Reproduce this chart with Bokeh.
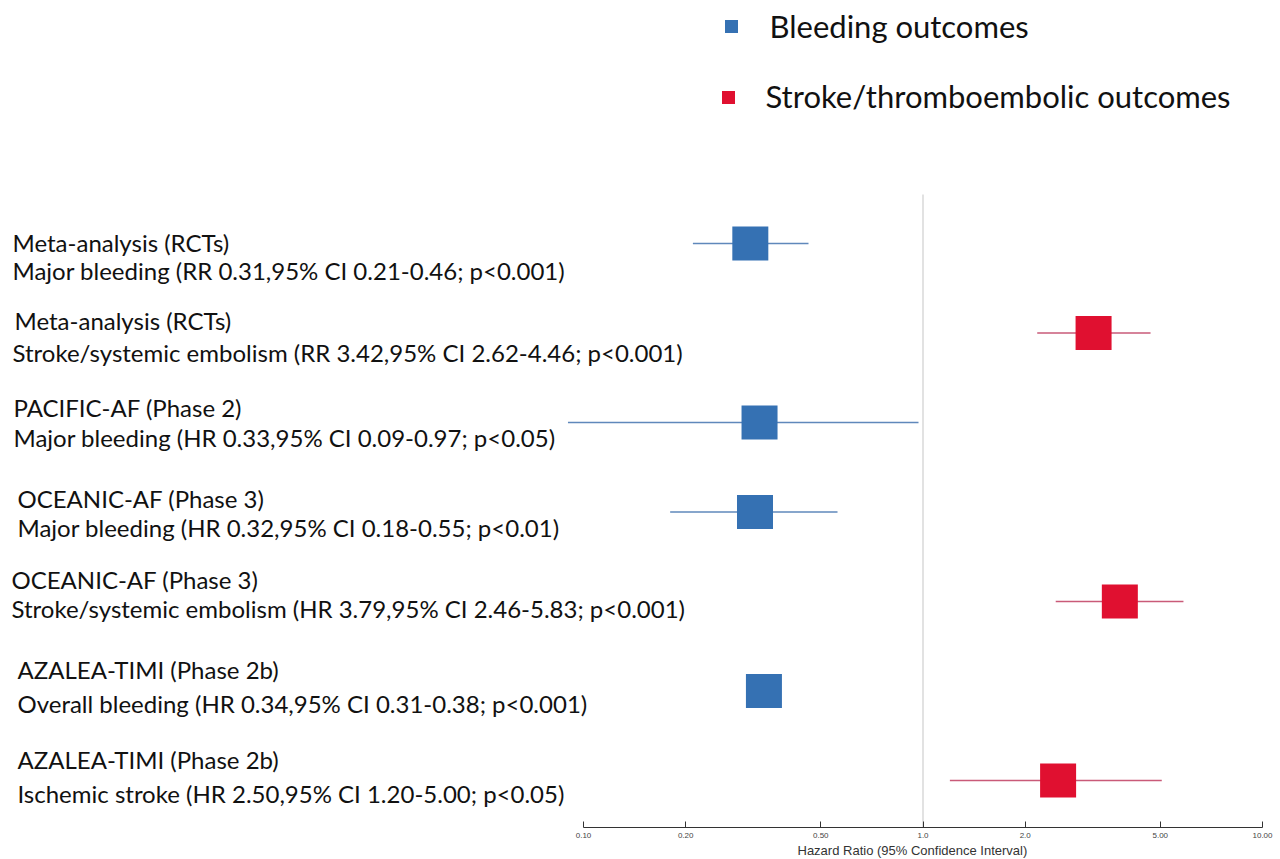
import numpy as np
from bokeh.plotting import figure
from bokeh.models import Range1d, FixedTicker, ColumnDataSource, Title
from bokeh.embed import file_html
from bokeh.resources import INLINE
from bokeh.core.properties import value

# ---------------- data ----------------
studies = [
    "Meta-analysis (RCTs)",
    "Meta-analysis (RCTs)",
    "PACIFIC-AF (Phase 2)",
    "OCEANIC-AF (Phase 3)",
    "OCEANIC-AF (Phase 3)",
    "AZALEA-TIMI (Phase 2b)",
    "AZALEA-TIMI (Phase 2b)",
]
outcomes = [
    "Major bleeding (RR 0.31,95% CI 0.21-0.46; p<0.001)",
    "Stroke/systemic embolism (RR 3.42,95% CI 2.62-4.46; p<0.001)",
    "Major bleeding (HR 0.33,95% CI 0.09-0.97; p<0.05)",
    "Major bleeding (HR 0.32,95% CI 0.18-0.55; p<0.01)",
    "Stroke/systemic embolism (HR 3.79,95% CI 2.46-5.83; p<0.001)",
    "Overall bleeding (HR 0.34,95% CI 0.31-0.38; p<0.001)",
    "Ischemic stroke (HR 2.50,95% CI 1.20-5.00; p<0.05)",
]
# values as drawn in the picture
hr = [0.31, 3.18, 0.33, 0.32, 3.80, 0.34, 2.50]
ci_low = [0.21, 2.17, 0.09, 0.18, 2.46, 0.31, 1.20]
ci_high = [0.46, 4.68, 0.97, 0.56, 5.85, 0.38, 5.05]
kind = ["bleed", "stroke", "bleed", "bleed", "stroke", "bleed", "stroke"]

tick_values = [0.1, 0.2, 0.5, 1.0, 2.0, 5.0, 10.0]
tick_labels = ["0.10", "0.20", "0.50", "1.0", "2.0", "5.00", "10.00"]
legend_labels = ["Bleeding outcomes", "Stroke/thromboembolic outcomes"]
legend_kinds = ["bleed", "stroke"]

# ---------------- styles / layout ----------------
BOX = {"bleed": "#3571b3", "stroke": "#e01030"}
LINE = {"bleed": "#5f88bb", "stroke": "#c95a78"}

W, H = 1280, 859
BOTTOM = 32
FRAME_H = H - BOTTOM
PX_DEC = 339.5            # pixels per decade
X01 = 583                 # px of x=0.1
ROW0 = 243                # px of first row centre
ROW_STEP = 89.5

lx0 = -1 - X01 / PX_DEC
lx1 = lx0 + W / PX_DEC
y_top = (0 - ROW0) / ROW_STEP
y_bot = (FRAME_H - ROW0) / ROW_STEP


def px_to_x(px):
    return 10 ** (lx0 + px / PX_DEC)


def px_to_y(py):
    return (py - ROW0) / ROW_STEP


p = figure(width=W, height=H, x_axis_type="log",
           x_range=Range1d(10 ** lx0, 10 ** lx1),
           y_range=Range1d(y_bot, y_top),
           output_backend="svg", toolbar_location=None,
           min_border_left=0, min_border_right=0, min_border_top=0,
           min_border_bottom=BOTTOM, y_axis_location=None)
p.outline_line_color = None
p.xgrid.visible = False
p.ygrid.visible = False
p.background_fill_color = "white"
p.border_fill_color = "white"

rows = list(range(len(hr)))
src = ColumnDataSource(dict(
    y=rows, hr=hr, lo=ci_low, hi=ci_high,
    box=[BOX[k] for k in kind], line=[LINE[k] for k in kind],
    study=studies, outcome=outcomes,
    x0=[10 ** lx0] * len(hr),
    xo1=[12, 14, 13, 17, 11, 17, 17],
    xo2=[12, 12, 13, 17, 11, 17, 17],
    yo1=[-1, -13, -15, -14, -22, -22, -21],
    yo2=[27, 19, 15, 15, 7, 12, 13],
))

# reference line at HR = 1
p.segment(x0=[1.0], y0=[px_to_y(194)], x1=[1.0], y1=[y_bot],
          line_color="#cfcfcf", line_width=1.2)

# CI lines and boxes
p.segment(x0="lo", y0="y", x1="hi", y1="y", source=src,
          line_color="line", line_width=1.4)
p.rect(x="hr", y="y", width=36, height=34, width_units="screen",
       height_units="screen", source=src, fill_color="box", line_color=None)

# left labels
for col, xo, yo in (("study", "xo1", "yo1"), ("outcome", "xo2", "yo2")):
    p.text(x="x0", y="y", text=col, x_offset=xo, y_offset=yo, source=src,
           text_font=value("Lato"), text_font_size="24px",
           text_color="#111111", text_baseline="middle", text_align="left")

# legend (top)
leg = ColumnDataSource(dict(
    gx=[px_to_x(731), px_to_x(728)], gy=[px_to_y(26), px_to_y(97)],
    tx=[px_to_x(769), px_to_x(765)], ty=[px_to_y(25), px_to_y(95)],
    color=[BOX[k] for k in legend_kinds], label=legend_labels,
))
p.scatter(x="gx", y="gy", source=leg, marker="square", size=13,
          fill_color="color", line_color=None)
p.text(x="tx", y="ty", text="label", source=leg, text_font=value("Lato"),
       text_font_size="31px", text_color="#111111",
       text_baseline="middle", text_align="left")

# axis
ax = p.xaxis[0]
ax.ticker = FixedTicker(ticks=tick_values)
ax.major_label_overrides = {v: l for v, l in zip(tick_values, tick_labels)}
ax.bounds = (tick_values[0], tick_values[-1])
ax.minor_tick_line_color = None
ax.major_tick_in = 6
ax.major_tick_out = 0
ax.axis_line_color = "#333333"
ax.major_tick_line_color = "#333333"
ax.major_label_text_font = "Liberation Sans"
ax.major_label_text_font_size = "8px"
ax.major_label_text_color = "#444444"
ax.major_label_standoff = 5

title = Title(text="Hazard Ratio (95% Confidence Interval)", align="left",
              offset=797, standoff=0, text_font="Liberation Sans",
              text_font_style="normal", text_font_size="13px",
              text_color="#333333")
p.add_layout(title, "below")

open("out.html", "w").write(file_html(p, INLINE))
